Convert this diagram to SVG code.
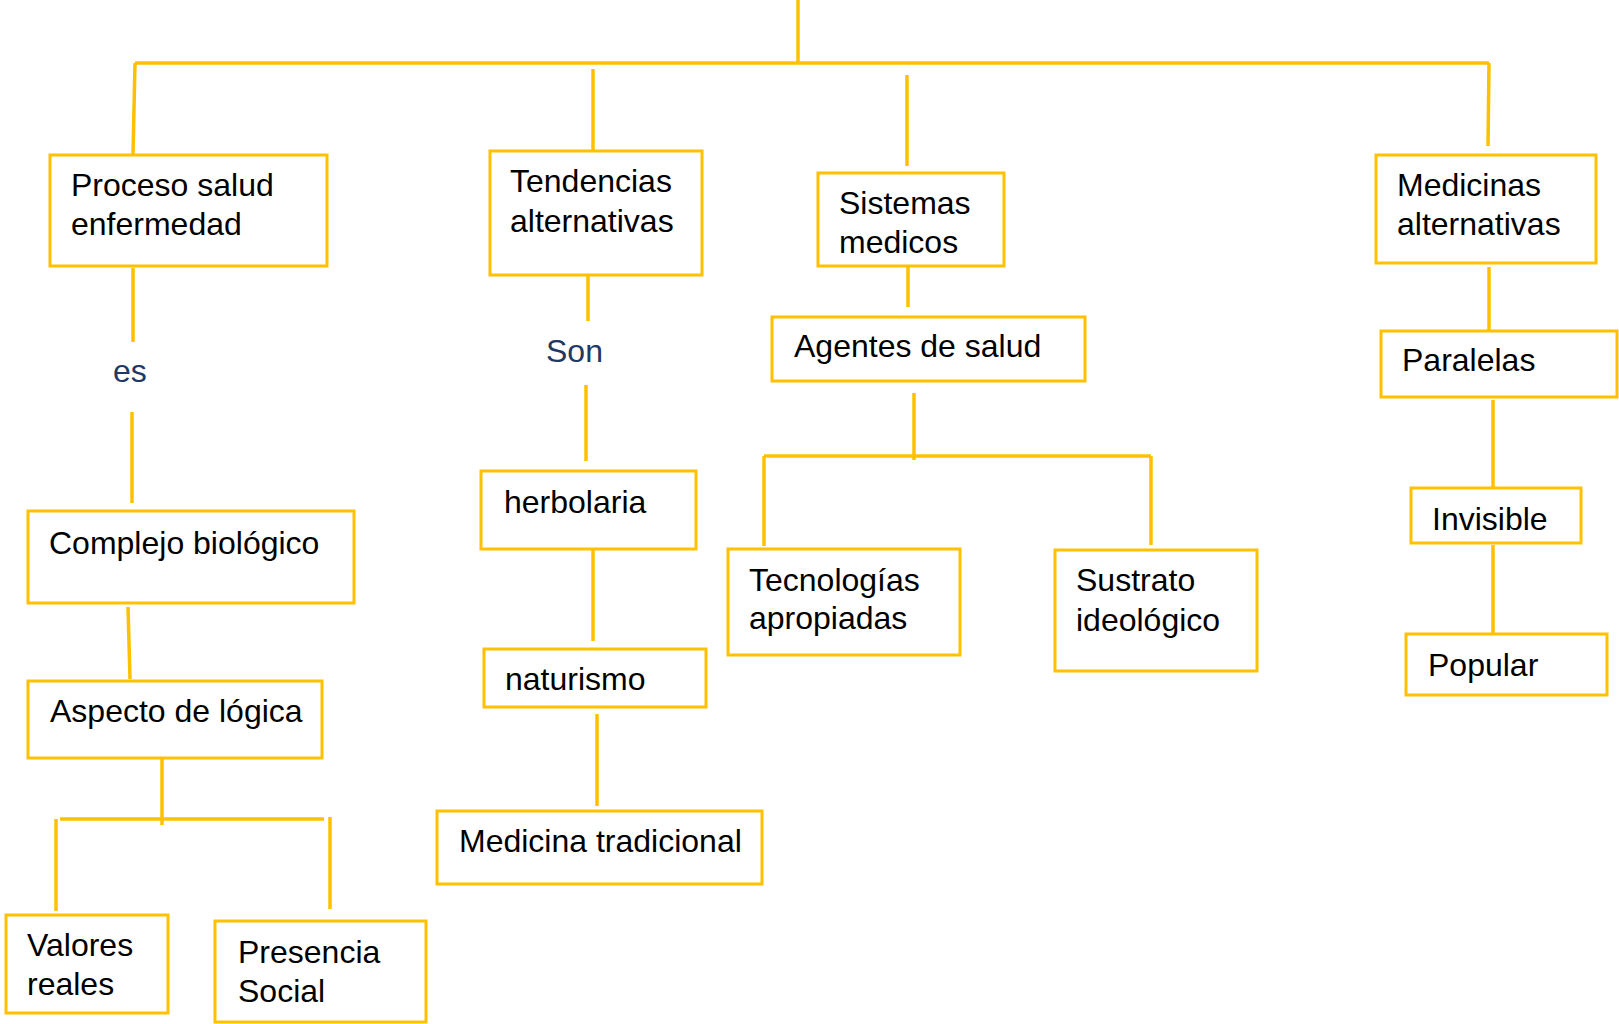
<svg xmlns="http://www.w3.org/2000/svg" width="1619" height="1024" viewBox="0 0 1619 1024">
<style>
.box{fill:#fff;stroke:#FFC000;stroke-width:3}
.ln{fill:none;stroke:#FFC000;stroke-width:3.5}
.t{font-family:"Liberation Sans",Arial,sans-serif;font-size:32px;fill:#000}
.lbl{font-family:"Liberation Sans",Arial,sans-serif;font-size:32px;fill:#1F3864}
</style>
<rect width="1619" height="1024" fill="#fff"/>
<g id="connectors">
<path class="ln" d="M798,0 V63"/>
<path class="ln" d="M135,63 H1489"/>
<path class="ln" d="M135,63 L133,154"/>
<path class="ln" d="M593,69 V150"/>
<path class="ln" d="M907,75 V166"/>
<path class="ln" d="M1489,63 L1488,146"/>
<path class="ln" d="M133,268 V342"/>
<path class="ln" d="M132,412 V503"/>
<path class="ln" d="M588,275 V321"/>
<path class="ln" d="M586,385 V461"/>
<path class="ln" d="M908,266 V307"/>
<path class="ln" d="M914,393 V460"/>
<path class="ln" d="M764,456 H1151"/>
<path class="ln" d="M764,456 V546"/>
<path class="ln" d="M1151,456 V545"/>
<path class="ln" d="M1489,267 V333"/>
<path class="ln" d="M1493,400 V491"/>
<path class="ln" d="M1493,545 V636"/>
<path class="ln" d="M593,549 V641"/>
<path class="ln" d="M597,714 V806"/>
<path class="ln" d="M128,607 L130,679"/>
<path class="ln" d="M162,758 V825"/>
<path class="ln" d="M60,819 H324"/>
<path class="ln" d="M56,819 V911"/>
<path class="ln" d="M330,817 V909"/>
<text class="lbl" x="113" y="382">es</text>
<text class="lbl" x="546" y="362">Son</text>
</g>
<g id="n-proceso"><rect class="box" x="50" y="155" width="277" height="111"/><text class="t" x="71" y="196">Proceso salud</text><text class="t" x="71" y="235">enfermedad</text></g>
<g id="n-tendencias"><rect class="box" x="490" y="151" width="212" height="124"/><text class="t" x="510" y="192">Tendencias</text><text class="t" x="510" y="232">alternativas</text></g>
<g id="n-sistemas"><rect class="box" x="818" y="173" width="186" height="93"/><text class="t" x="839" y="214">Sistemas</text><text class="t" x="839" y="253">medicos</text></g>
<g id="n-medicinas"><rect class="box" x="1376" y="155" width="220" height="108"/><text class="t" x="1397" y="196">Medicinas</text><text class="t" x="1397" y="235">alternativas</text></g>
<g id="n-agentes"><rect class="box" x="772" y="317" width="313" height="64"/><text class="t" x="794" y="357">Agentes de salud</text></g>
<g id="n-paralelas"><rect class="box" x="1381" y="331" width="236" height="66"/><text class="t" x="1402" y="371">Paralelas</text></g>
<g id="n-complejo"><rect class="box" x="28" y="511" width="326" height="92"/><text class="t" x="49" y="554">Complejo biológico</text></g>
<g id="n-herbolaria"><rect class="box" x="481" y="471" width="215" height="78"/><text class="t" x="504" y="513">herbolaria</text></g>
<g id="n-invisible"><rect class="box" x="1411" y="488" width="170" height="55"/><text class="t" x="1432" y="530">Invisible</text></g>
<g id="n-tecnologias"><rect class="box" x="728" y="549" width="232" height="106"/><text class="t" x="749" y="591">Tecnologías</text><text class="t" x="749" y="629">apropiadas</text></g>
<g id="n-sustrato"><rect class="box" x="1055" y="550" width="202" height="121"/><text class="t" x="1076" y="591">Sustrato</text><text class="t" x="1076" y="631">ideológico</text></g>
<g id="n-naturismo"><rect class="box" x="484" y="649" width="222" height="58"/><text class="t" x="505" y="690">naturismo</text></g>
<g id="n-popular"><rect class="box" x="1406" y="634" width="201" height="61"/><text class="t" x="1428" y="676">Popular</text></g>
<g id="n-aspecto"><rect class="box" x="28" y="681" width="294" height="77"/><text class="t" x="50" y="722">Aspecto de lógica</text></g>
<g id="n-medicina-tradicional"><rect class="box" x="437" y="811" width="325" height="73"/><text class="t" x="459" y="852">Medicina tradicional</text></g>
<g id="n-valores"><rect class="box" x="6" y="915" width="162" height="98"/><text class="t" x="27" y="956">Valores</text><text class="t" x="27" y="995">reales</text></g>
<g id="n-presencia"><rect class="box" x="215" y="921" width="211" height="101"/><text class="t" x="238" y="963">Presencia</text><text class="t" x="238" y="1002">Social</text></g>
</svg>
